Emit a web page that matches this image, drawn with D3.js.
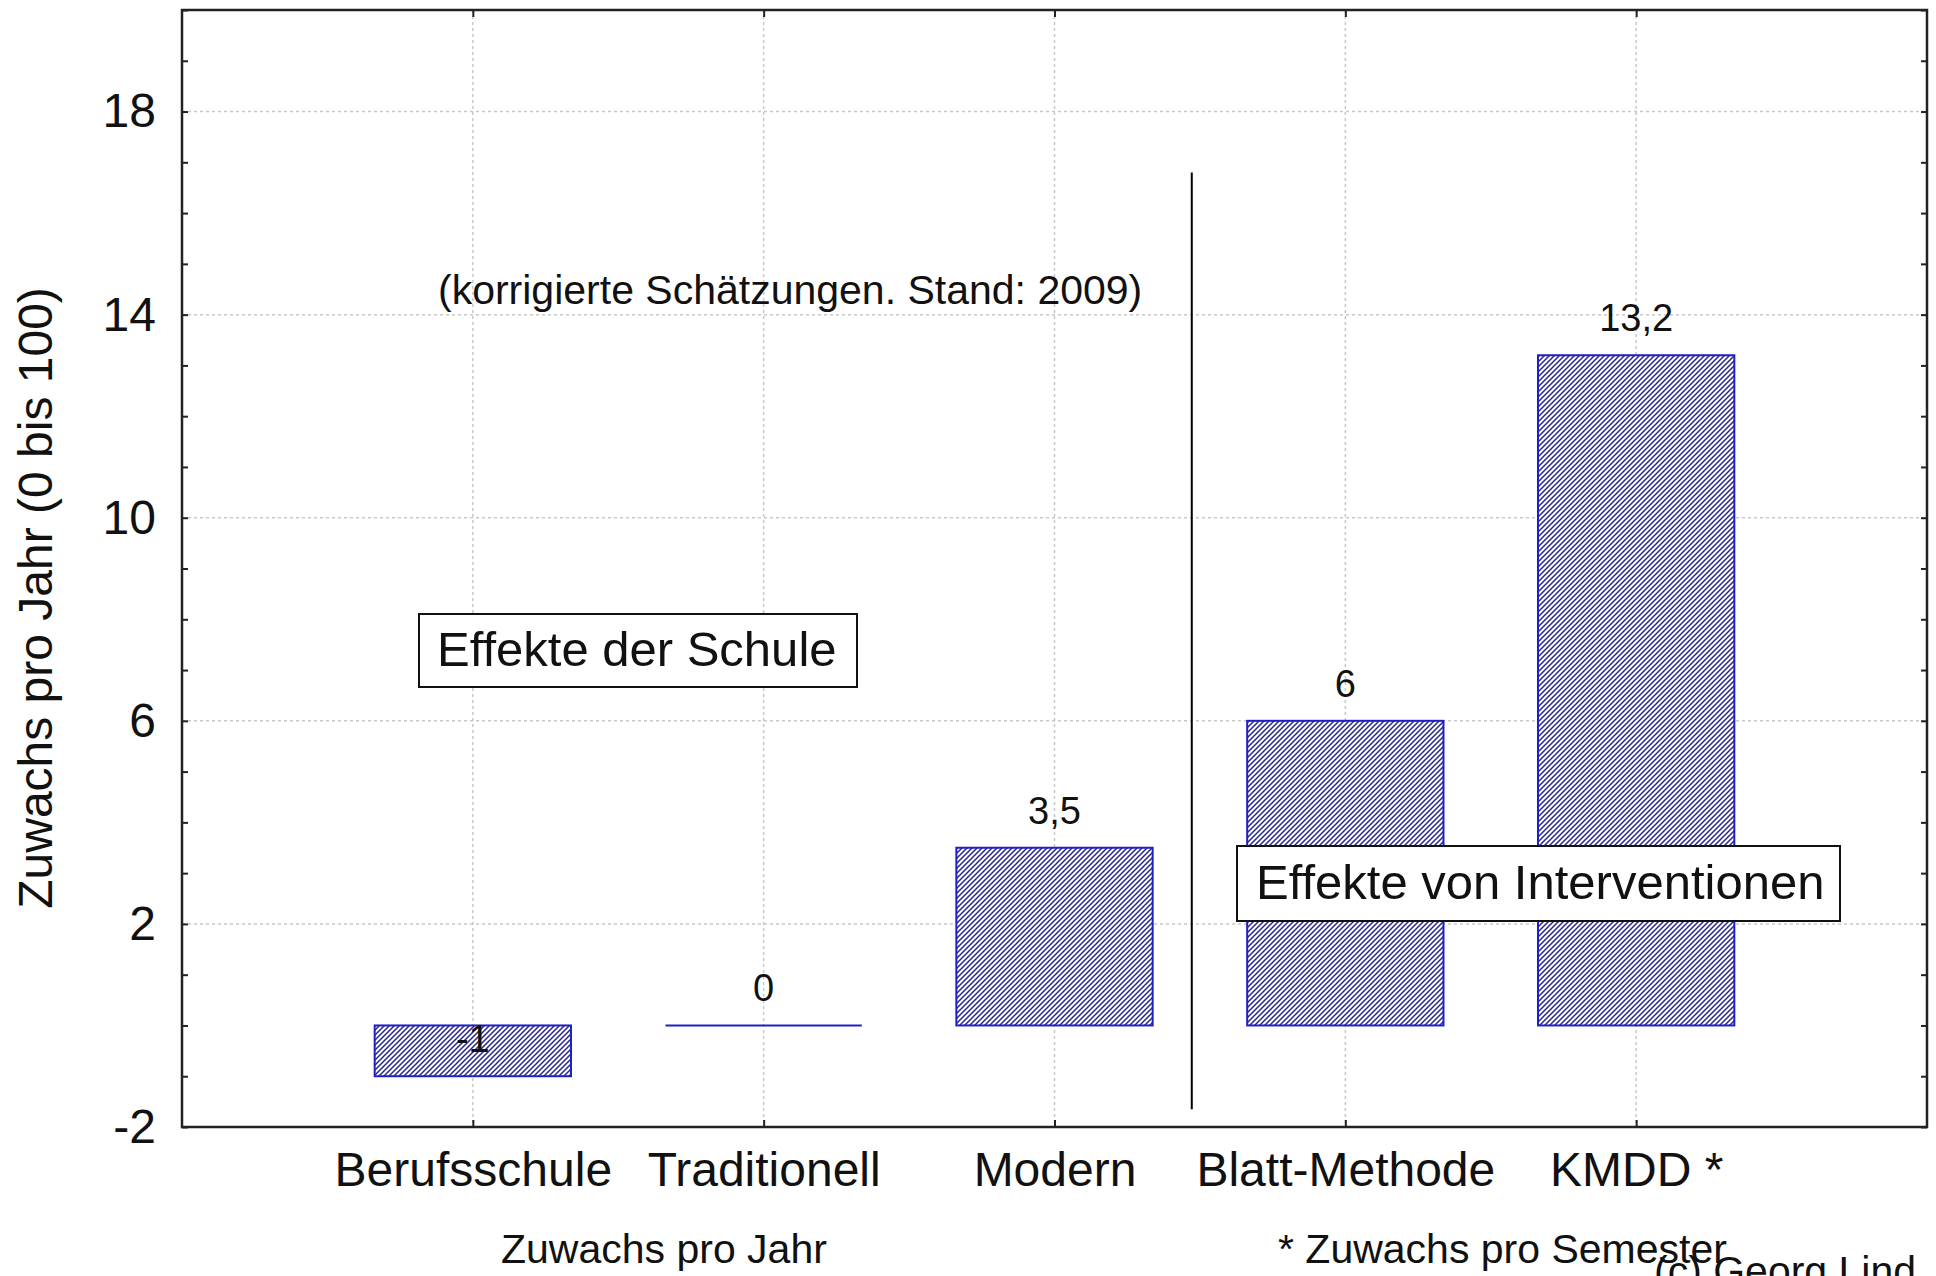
<!DOCTYPE html>
<html>
<head>
<meta charset="utf-8">
<script src="https://cdn.jsdelivr.net/npm/d3@7"></script>
<style>
  body { margin: 0; background: #fff; }
  svg { display: block; font-family: 'Liberation Sans', Arial, sans-serif; }
</style>
</head>
<body>
<div id="chart"></div>
<script>
// data
var categories = ['Berufsschule', 'Traditionell', 'Modern', 'Blatt-Methode', 'KMDD *'];
var values = [-1, 0, 3.5, 6, 13.2];
var valueLabels = ['-1', '0', '3,5', '6', '13,2'];
var yTicks = [-2, 2, 6, 10, 14, 18];
var yMinorTicks = d3.range(-2, 21, 1);

var width = 1936, height = 1276;
var plotLeft = 182, plotRight = 1927, plotTop = 10, plotBottom = 1127;

var svg = d3.select('#chart').append('svg')
  .attr('width', width)
  .attr('height', height);

var x = d3.scalePoint()
  .domain(categories)
  .range([plotLeft, plotRight])
  .padding(1);

var y = d3.scaleLinear()
  .domain([-2, 20])
  .range([plotBottom, plotTop]);

var barWidth = x.step() * 0.675;
var bars = values.map(function(v, i) { return {v: v, c: categories[i], label: valueLabels[i]}; });

// hatch pattern
var pat = svg.append('defs').append('pattern')
  .attr('id', 'hatch')
  .attr('patternUnits', 'userSpaceOnUse')
  .attr('width', 5)
  .attr('height', 5);
pat.append('rect').attr('width', 5).attr('height', 5).attr('fill', '#fff');
pat.append('path')
  .attr('d', 'M0,5 L5,0 M-1,1 L1,-1 M4,6 L6,4')
  .attr('stroke', '#262690')
  .attr('stroke-width', 1.5);

// grid
svg.append('g').selectAll('line')
  .data(yTicks.filter(function(d) { return d > -2; }))
  .enter().append('line')
  .attr('x1', plotLeft).attr('x2', plotRight)
  .attr('y1', function(d) { return y(d); })
  .attr('y2', function(d) { return y(d); })
  .attr('stroke', '#c8c8c8')
  .attr('stroke-width', 1.5)
  .attr('stroke-dasharray', '3,3');

svg.append('g').selectAll('line')
  .data(categories)
  .enter().append('line')
  .attr('x1', function(d) { return x(d); })
  .attr('x2', function(d) { return x(d); })
  .attr('y1', plotTop).attr('y2', plotBottom)
  .attr('stroke', '#c8c8c8')
  .attr('stroke-width', 1.5)
  .attr('stroke-dasharray', '3,3');

// bars
svg.append('g').selectAll('rect')
  .data(bars.filter(function(d) { return d.v !== 0; }))
  .enter().append('rect')
  .attr('x', function(d) { return x(d.c) - barWidth / 2; })
  .attr('y', function(d) { return y(Math.max(0, d.v)); })
  .attr('width', barWidth)
  .attr('height', function(d) { return Math.abs(y(d.v) - y(0)); })
  .attr('fill', 'url(#hatch)')
  .attr('stroke', '#1f1fc8')
  .attr('stroke-width', 2);

// zero bar is just a line
svg.append('g').selectAll('line')
  .data(bars.filter(function(d) { return d.v === 0; }))
  .enter().append('line')
  .attr('x1', function(d) { return x(d.c) - barWidth / 2; })
  .attr('x2', function(d) { return x(d.c) + barWidth / 2; })
  .attr('y1', y(0))
  .attr('y2', y(0))
  .attr('stroke', '#1f1fc8')
  .attr('stroke-width', 2);

// value labels
svg.append('g').selectAll('text')
  .data(bars)
  .enter().append('text')
  .attr('x', function(d) { return x(d.c); })
  .attr('y', function(d) { return y(d.v) - 24; })
  .attr('text-anchor', 'middle')
  .attr('font-size', '38px')
  .attr('fill', '#111')
  .text(function(d) { return d.label; });

// separator line
svg.append('line')
  .attr('x1', x('Modern') + x.step() * 0.472)
  .attr('x2', x('Modern') + x.step() * 0.472)
  .attr('y1', y(16.8))
  .attr('y2', y(-1.65))
  .attr('stroke', '#000')
  .attr('stroke-width', 2);

// frame
svg.append('rect')
  .attr('x', plotLeft).attr('y', plotTop)
  .attr('width', plotRight - plotLeft).attr('height', plotBottom - plotTop)
  .attr('fill', 'none')
  .attr('stroke', '#222')
  .attr('stroke-width', 2.5);

// inner ticks
svg.append('g').attr('transform', 'translate(' + plotLeft + ',0)')
  .call(d3.axisRight(y).tickValues(yMinorTicks).tickSize(6).tickFormat(''))
  .call(function(g) { g.select('.domain').remove(); });
svg.append('g').attr('transform', 'translate(' + plotRight + ',0)')
  .call(d3.axisLeft(y).tickValues(yMinorTicks).tickSize(6).tickFormat(''))
  .call(function(g) { g.select('.domain').remove(); });
svg.append('g').attr('transform', 'translate(0,' + plotBottom + ')')
  .call(d3.axisTop(x).tickSize(7).tickFormat(''))
  .call(function(g) { g.select('.domain').remove(); });
svg.append('g').attr('transform', 'translate(0,' + plotTop + ')')
  .call(d3.axisBottom(x).tickSize(7).tickFormat(''))
  .call(function(g) { g.select('.domain').remove(); });
svg.selectAll('.tick line').attr('stroke', '#222').attr('stroke-width', 2);

// tick labels
var yAxis = svg.append('g').attr('transform', 'translate(' + plotLeft + ',0)')
  .call(d3.axisLeft(y).tickValues(yTicks).tickSize(0).tickPadding(26)
    .tickFormat(function(d) { return String(d); }));
yAxis.select('.domain').remove();
yAxis.selectAll('text')
  .attr('font-family', "'Liberation Sans', Arial, sans-serif")
  .attr('font-size', '48px')
  .attr('fill', '#111');

var xAxis = svg.append('g').attr('transform', 'translate(0,' + plotBottom + ')')
  .call(d3.axisBottom(x).tickSize(0).tickPadding(25));
xAxis.select('.domain').remove();
xAxis.selectAll('text')
  .attr('font-family', "'Liberation Sans', Arial, sans-serif")
  .attr('font-size', '48px')
  .attr('fill', '#111');

// y title
svg.append('text')
  .attr('transform', 'translate(52,598) rotate(-90)')
  .attr('text-anchor', 'middle')
  .attr('font-size', '48px')
  .attr('fill', '#111')
  .text('Zuwachs pro Jahr (0 bis 100)');

// annotations
svg.append('text')
  .attr('x', 438).attr('y', 304)
  .attr('font-size', '41px')
  .attr('fill', '#111')
  .text('(korrigierte Schätzungen. Stand: 2009)');

svg.append('rect')
  .attr('x', 419).attr('y', 614)
  .attr('width', 438).attr('height', 73)
  .attr('fill', '#fff')
  .attr('stroke', '#111')
  .attr('stroke-width', 2);
svg.append('text')
  .attr('x', 437).attr('y', 666)
  .attr('font-size', '49px')
  .attr('fill', '#111')
  .text('Effekte der Schule');

svg.append('rect')
  .attr('x', 1237).attr('y', 846)
  .attr('width', 603).attr('height', 75)
  .attr('fill', '#fff')
  .attr('stroke', '#111')
  .attr('stroke-width', 2);
svg.append('text')
  .attr('x', 1256).attr('y', 899)
  .attr('font-size', '49px')
  .attr('fill', '#111')
  .text('Effekte von Interventionen');

// footer texts
svg.append('text')
  .attr('x', 501).attr('y', 1263)
  .attr('font-size', '41px')
  .attr('fill', '#111')
  .text('Zuwachs pro Jahr');
svg.append('text')
  .attr('x', 1278).attr('y', 1263)
  .attr('font-size', '41px')
  .attr('fill', '#111')
  .text('* Zuwachs pro Semester');
svg.append('text')
  .attr('x', 1654).attr('y', 1285)
  .attr('font-size', '41px')
  .attr('fill', '#111')
  .text('(c) Georg Lind');
</script>
</body>
</html>
